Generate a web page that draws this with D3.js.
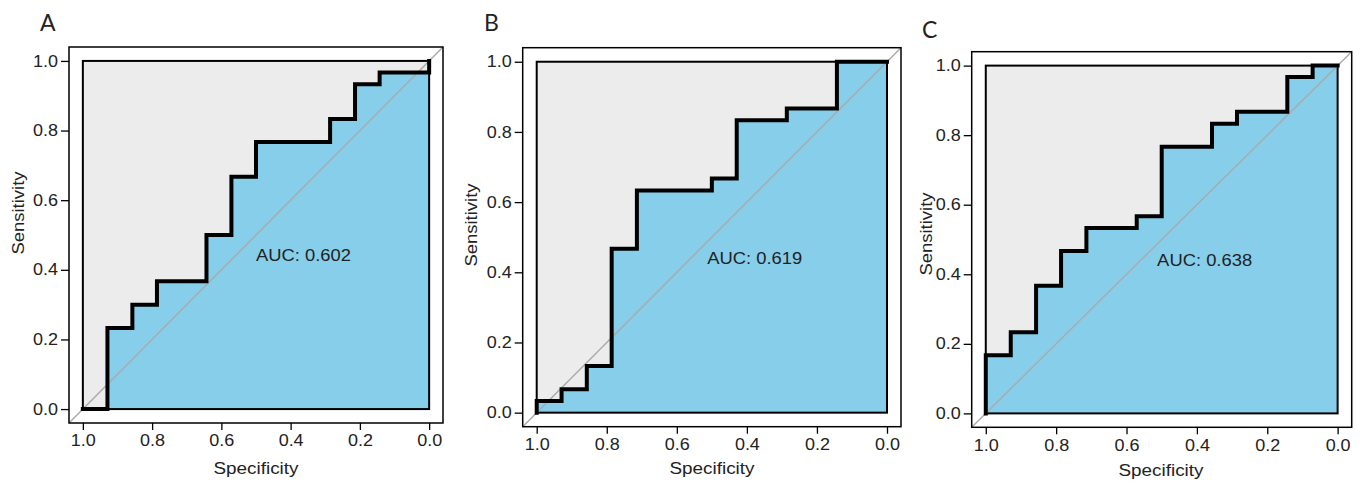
<!DOCTYPE html>
<html>
<head>
<meta charset="utf-8">
<script src="https://cdn.jsdelivr.net/npm/d3@7"></script>
<style>
  html, body { margin: 0; padding: 0; background: #ffffff; }
  svg { display: block; }
</style>
</head>
<body>
<svg id="chart" width="1360" height="486"></svg>
<script>
// ---- Data (specificity / sensitivity ROC step points, stepAfter order) ----
const panelLabels = ["A", "B", "C"];
const aucLabels = ["AUC: 0.602", "AUC: 0.619", "AUC: 0.638"];

const specA = [1, 0.929, 0.857, 0.786, 0.643, 0.571, 0.5, 0.286, 0.214, 0.143, 0];
const sensA = [0, 0.233, 0.3, 0.367, 0.5, 0.667, 0.767, 0.833, 0.933, 0.967, 1];

const specB = [1, 1, 0.929, 0.857, 0.786, 0.714, 0.5, 0.429, 0.286, 0.143, 0];
const sensB = [0, 0.033, 0.067, 0.133, 0.467, 0.633, 0.667, 0.833, 0.867, 1, 1];

const specC = [1, 1, 0.929, 0.857, 0.786, 0.714, 0.571, 0.5, 0.357, 0.286, 0.143, 0.071, 0];
const sensC = [0, 0.167, 0.233, 0.367, 0.467, 0.533, 0.567, 0.767, 0.833, 0.867, 0.967, 1, 1];

const tickValues = [0, 0.2, 0.4, 0.6, 0.8, 1.0];
const tickLabels = ["0.0", "0.2", "0.4", "0.6", "0.8", "1.0"];
const xTitle = "Specificity";
const yTitle = "Sensitivity";

// ---- Layout ----
const panels = [
  { spec: specA, sens: sensA, box: [69, 443, 47, 423], letter: [40, 31], ylab: [24, 213], xlab: [256, 474], aucX: 0.5 },
  { spec: specB, sens: sensB, box: [522.7, 901, 47.7, 426.7], letter: [484, 31], ylab: [477, 225], xlab: [712, 474], aucX: 0.513 },
  { spec: specC, sens: sensC, box: [971.7, 1351.7, 51.7, 427.3], letter: [922, 38], ylab: [932, 234], xlab: [1161, 476], aucX: 0.513 }
];

const svg = d3.select("#chart");
const FONT = "'Liberation Sans', Arial, Helvetica, sans-serif";
const TXT = "#222";
const EXP = 0.04;

panels.forEach((p, i) => {
  const [x0, x1, y0, y1] = p.box;
  const x = d3.scaleLinear().domain([1 + EXP, -EXP]).range([x0, x1]);
  const y = d3.scaleLinear().domain([-EXP, 1 + EXP]).range([y1, y0]);
  const g = svg.append("g");
  const pts = p.spec.map((s, k) => ({ s: s, v: p.sens[k] }));

  // max AUC polygon (grey)
  g.append("rect")
    .attr("x", x(1)).attr("y", y(1))
    .attr("width", x(0) - x(1)).attr("height", y(0) - y(1))
    .attr("fill", "#ececec").attr("stroke", "none");

  // AUC polygon (blue)
  const area = d3.area().curve(d3.curveStepAfter)
    .x(d => x(d.s)).y0(y(0)).y1(d => y(d.v));
  g.append("path").datum(pts).attr("d", area)
    .attr("fill", "#87ceeb").attr("stroke", "none");

  // border of max polygon
  g.append("rect")
    .attr("x", x(1)).attr("y", y(1))
    .attr("width", x(0) - x(1)).attr("height", y(0) - y(1))
    .attr("fill", "none").attr("stroke", "#000").attr("stroke-width", 2);

  // diagonal reference line across full plot region
  g.append("line")
    .attr("x1", x(1 + EXP)).attr("y1", y(-EXP))
    .attr("x2", x(-EXP)).attr("y2", y(1 + EXP))
    .attr("stroke", "#aaaaaa").attr("stroke-width", 1.4);

  // ROC curve
  const line = d3.line().curve(d3.curveStepAfter)
    .x(d => x(d.s)).y(d => y(d.v));
  g.append("path").datum(pts).attr("d", line)
    .attr("fill", "none").attr("stroke", "#000").attr("stroke-width", 4)
    .attr("stroke-linejoin", "miter").attr("stroke-linecap", "square");

  // outer box
  g.append("rect")
    .attr("x", x0).attr("y", y0).attr("width", x1 - x0).attr("height", y1 - y0)
    .attr("fill", "none").attr("stroke", "#000").attr("stroke-width", 1.5);

  // axes
  const yAxis = d3.axisLeft(y).tickValues(tickValues)
    .tickFormat((d, k) => tickLabels[k]).tickSize(8).tickPadding(3);
  const ya = g.append("g").attr("transform", `translate(${x0},0)`).call(yAxis);
  const xAxis = d3.axisBottom(x).tickValues(tickValues)
    .tickFormat((d, k) => tickLabels[k]).tickSize(7).tickPadding(5);
  const xa = g.append("g").attr("transform", `translate(0,${y1})`).call(xAxis);
  [ya, xa].forEach(a => {
    a.select(".domain").remove();
    a.selectAll(".tick line").attr("stroke", "#000").attr("stroke-width", 1.3);
    a.selectAll(".tick text")
      .attr("font-family", FONT).attr("font-size", 16).attr("fill", TXT)
      .attr("textLength", 25).attr("lengthAdjust", "spacingAndGlyphs");
  });

  // AUC text
  g.append("text")
    .attr("x", x(p.aucX)).attr("y", y(0.44))
    .attr("dominant-baseline", "central")
    .attr("font-family", FONT).attr("font-size", 16).attr("fill", TXT)
    .attr("textLength", 95).attr("lengthAdjust", "spacingAndGlyphs")
    .text(aucLabels[i]);

  // axis titles
  g.append("text")
    .attr("x", p.xlab[0]).attr("y", p.xlab[1])
    .attr("text-anchor", "middle")
    .attr("font-family", FONT).attr("font-size", 16).attr("fill", TXT)
    .attr("textLength", 85).attr("lengthAdjust", "spacingAndGlyphs")
    .text(xTitle);
  g.append("text")
    .attr("transform", `translate(${p.ylab[0]},${p.ylab[1]}) rotate(-90)`)
    .attr("text-anchor", "middle")
    .attr("font-family", FONT).attr("font-size", 16).attr("fill", TXT)
    .attr("textLength", 83).attr("lengthAdjust", "spacingAndGlyphs")
    .text(yTitle);

  // panel letter
  g.append("text")
    .attr("x", p.letter[0]).attr("y", p.letter[1])
    .attr("font-family", "Lato, 'Open Sans', sans-serif").attr("font-size", 23)
    .attr("fill", "#222")
    .text(panelLabels[i]);
});
</script>
</body>
</html>
